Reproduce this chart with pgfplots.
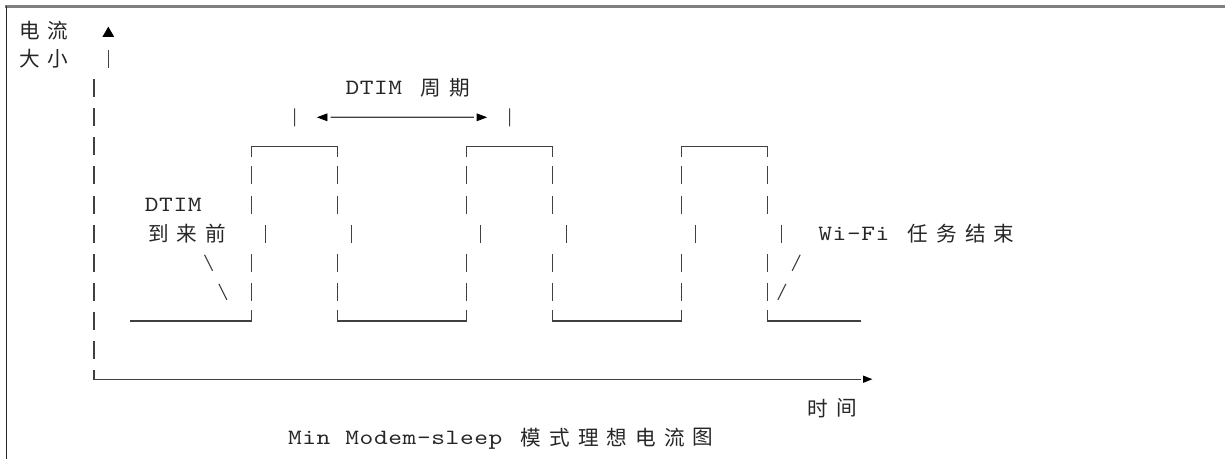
\documentclass[border=0pt]{standalone}
\usepackage{pgfplots}
\pgfplotsset{compat=1.18}
\usepackage{pgfplotstable}
\usepackage{fontspec}
\setmonofont[FakeStretch=1.2]{lmmono10-regular.otf}
\newfontfamily\cjkfont{Noto Sans CJK SC}
\newcommand\tx{\ttfamily\fontsize{10.9pt}{13pt}\selectfont}
\newcommand\cj{\cjkfont\fontsize{10.3pt}{12pt}\selectfont}
\def\mono#1{\monoloop#1\relax}
\def\monoloop#1{\ifx#1\relax\else\makebox[7.165pt]{#1}\expandafter\monoloop\fi}
\tikzset{
  txt/.style={inner sep=0pt, anchor=base west, font=\tx, text=black!85},
  cjk/.style={inner sep=0pt, anchor=center, font=\cj, text=black!85}}

% waveform: horizontal parts with their corner pieces
\pgfplotstableread{
x y
130 321
251.6 321
251.6 310
nan nan
251.6 157.4
251.6 146.4
337.6 146.4
337.6 157.4
nan nan
337.6 310
337.6 321
466.6 321
466.6 310
nan nan
466.6 157.4
466.6 146.4
552.6 146.4
552.6 157.4
nan nan
552.6 310
552.6 321
681.5 321
681.5 310
nan nan
681.5 157.4
681.5 146.4
767.5 146.4
767.5 157.4
nan nan
767.5 310
767.5 321
860.7 321
}\wave

% broken vertical edges of the pulses
\pgfplotstableread{
x y
251.6 166.5
251.6 184.5
nan nan
251.6 195.6
251.6 213.6
nan nan
265.9 224.7
265.9 242.7
nan nan
251.6 253.8
251.6 271.8
nan nan
251.6 282.9
251.6 300.9
nan nan
337.6 166.5
337.6 184.5
nan nan
337.6 195.6
337.6 213.6
nan nan
351.9 224.7
351.9 242.7
nan nan
337.6 253.8
337.6 271.8
nan nan
337.6 282.9
337.6 300.9
nan nan
466.6 166.5
466.6 184.5
nan nan
466.6 195.6
466.6 213.6
nan nan
480.9 224.7
480.9 242.7
nan nan
466.6 253.8
466.6 271.8
nan nan
466.6 282.9
466.6 300.9
nan nan
552.6 166.5
552.6 184.5
nan nan
552.6 195.6
552.6 213.6
nan nan
566.9 224.7
566.9 242.7
nan nan
552.6 253.8
552.6 271.8
nan nan
552.6 282.9
552.6 300.9
nan nan
681.5 166.5
681.5 184.5
nan nan
681.5 195.6
681.5 213.6
nan nan
695.8 224.7
695.8 242.7
nan nan
681.5 253.8
681.5 271.8
nan nan
681.5 282.9
681.5 300.9
nan nan
767.5 166.5
767.5 184.5
nan nan
767.5 195.6
767.5 213.6
nan nan
781.8 224.7
781.8 242.7
nan nan
767.5 253.8
767.5 271.8
nan nan
767.5 282.9
767.5 300.9
}\edges

% axes drawn as broken bars
\pgfplotstableread{
x y
108.3 50.1
108.3 68.1
nan nan
94 79.2
94 97.2
nan nan
94 108.3
94 126.3
nan nan
94 137.4
94 155.4
nan nan
94 166.5
94 184.5
nan nan
94 195.6
94 213.6
nan nan
94 224.7
94 242.7
nan nan
94 253.8
94 271.8
nan nan
94 282.9
94 300.9
nan nan
94 312.0
94 330.0
nan nan
94 341.1
94 359.1
nan nan
94 370.2
94 379.2
860.7 379.2
}\axislines

% DTIM period marker and pointer strokes
\pgfplotstableread{
x y
294.6 108.3
294.6 126.3
nan nan
509.6 108.3
509.6 126.3
nan nan
330.5 117.3
473.8 117.3
nan nan
204.6 254.8
212.6 270.8
nan nan
218.9 283.9
226.9 299.9
nan nan
792.2 270.8
800.2 254.8
nan nan
777.8 299.9
785.8 283.9
}\marks

\begin{document}
\begin{tikzpicture}
\useasboundingbox (0,0) rectangle (612.5pt,229.5pt);
\begin{axis}[at={(0,0)}, anchor=south west,
  width=612.5pt, height=229.5pt, scale only axis,
  xmin=0, xmax=1225, ymin=0, ymax=459, y dir=reverse,
  hide axis, clip=false, unbounded coords=jump]
% frame
\addplot[draw=black!50, line width=1.1pt, mark=none] coordinates {(5,6.5) (1225,6.5)};
\addplot[draw=black!85, line width=0.6pt, mark=none] coordinates {(6.5,6.5) (6.5,459)};
% drawing
\addplot[draw=black!75, line width=0.55pt, mark=none] table {\wave};
\addplot[draw=black!75, line width=0.55pt, mark=none] table {\edges};
\addplot[draw=black!75, line width=0.55pt, mark=none] table {\axislines};
\addplot[draw=black!75, line width=0.55pt, mark=none] table {\marks};
% arrow heads
\addplot[only marks, mark=triangle*, mark size=3pt, black] coordinates {(108.3,33.5)};
\addplot[only marks, mark=triangle*, mark size=3pt, black, mark options={rotate=90, xscale=0.65}] coordinates {(324,117.3)};
\addplot[only marks, mark=triangle*, mark size=3pt, black, mark options={rotate=-90, xscale=0.65}] coordinates {(480,117.3)};
\addplot[only marks, mark=triangle*, mark size=2.6pt, black, mark options={rotate=-90, xscale=0.7}] coordinates {(866,379.2)};
% texts
\node[cjk] at (29.5,31) {电};
\node[cjk] at (58.2,31) {流};
\node[cjk] at (29.5,59.1) {大};
\node[cjk] at (58.2,59.1) {小};
\node[txt] at (344.8,94.7) {\mono{DTIM}};
\node[cjk] at (430.8,88.2) {周};
\node[cjk] at (459.4,88.2) {期};
\node[txt] at (144.2,211.1) {\mono{DTIM}};
\node[cjk] at (158.5,233.7) {到};
\node[cjk] at (187.2,233.7) {来};
\node[cjk] at (215.8,233.7) {前};
\node[txt] at (817.7,240.2) {\mono{Wi-Fi}};
\node[cjk] at (918.0,233.7) {任};
\node[cjk] at (946.6,233.7) {务};
\node[cjk] at (975.3,233.7) {结};
\node[cjk] at (1003.9,233.7) {束};
\node[cjk] at (817.7,408.3) {时};
\node[cjk] at (846.4,408.3) {间};
\node[txt] at (287.4,444.5) {\mono{Min}};
\node[txt] at (344.7,444.5) {\mono{Modem-sleep}};
\node[cjk] at (531.1,437.4) {模};
\node[cjk] at (559.7,437.4) {式};
\node[cjk] at (588.4,437.4) {理};
\node[cjk] at (617.1,437.4) {想};
\node[cjk] at (645.7,437.4) {电};
\node[cjk] at (674.4,437.4) {流};
\node[cjk] at (703.0,437.4) {图};
\end{axis}
\end{tikzpicture}
\end{document}
